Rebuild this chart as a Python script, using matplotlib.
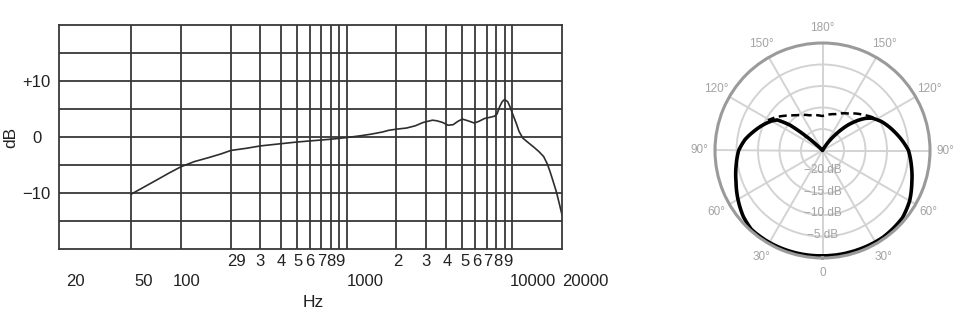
import numpy as np
import matplotlib
matplotlib.use("Agg")
import matplotlib.pyplot as plt
from matplotlib import transforms

plt.rcParams['font.family'] = ['Liberation Sans', 'DejaVu Sans']

# ---------------- data: frequency response ----------------
freq_hz = [50, 60, 70, 85, 100, 120, 150, 175, 200, 250, 300, 400, 500, 600,
           800, 1000, 1200, 1400, 1650, 1800, 2000, 2300, 2600, 2900, 3300,
           3500, 3800, 4100, 4400, 4700, 5000, 5400, 5900, 6300, 6800, 7300,
           7800, 8100, 8400, 8700, 9000, 9400, 9700, 10100, 10600, 11000,
           11600, 12500, 13500, 14500, 15500, 16300, 16900, 17500, 18500,
           19300, 20000]
resp_db = [-10.2, -8.9, -7.8, -6.4, -5.3, -4.4, -3.6, -3.0, -2.4, -2.0, -1.6,
           -1.2, -0.9, -0.7, -0.4, -0.1, 0.2, 0.5, 0.9, 1.2, 1.4, 1.6, 2.0,
           2.6, 3.0, 2.9, 2.6, 2.1, 2.2, 2.8, 3.2, 2.9, 2.5, 2.8, 3.3, 3.5,
           3.7, 4.1, 5.4, 6.3, 6.7, 6.3, 5.4, 4.0, 2.4, 1.0, -0.2, -1.0,
           -1.8, -2.6, -3.5, -4.8, -6.1, -7.5, -9.8, -12.0, -13.9]

grid_freqs = [50, 100, 200, 300, 400, 500, 600, 700, 800, 900, 1000,
              2000, 3000, 4000, 5000, 6000, 7000, 8000, 9000, 10000]
upper_tick_freqs = [200, 300, 400, 500, 600, 700, 800, 900,
                    2000, 3000, 4000, 5000, 6000, 7000, 8000, 9000]
upper_tick_labels = ['29', '3', '4', '5', '6', '7', '8', '9',
                     '2', '3', '4', '5', '6', '7', '8', '9']
lower_tick_freqs = [20, 50, 100, 1000, 10000, 20000]
lower_tick_labels = ['20', '50', '100', '1000', '10000', '20000']
db_ticks = [-15, -10, -5, 0, 5, 10, 15]
db_tick_labels = ['', '\u221210', '', '0', '', '+10', '']

# ---------------- data: polar pattern ----------------
solid_deg = [0, 20, 35, 50, 60, 70, 80, 90, 104, 116, 123, 127, 130, 135, 141,
             145, 150, 180, 223, 226, 229, 232, 236, 240, 245, 255, 262, 270,
             280, 290, 300, 310, 318, 330, 345, 360]
solid_db = [-0.5, -0.5, -0.4, -0.7, -1.6, -2.9, -4.0, -5.0, -7.6, -9.7, -11.2,
            -12.6, -14.0, -16.6, -20.4, -22.5, -25.0, -25.0, -25.0, -23.5,
            -20.1, -15.4, -12.3, -11.3, -10.3, -8.3, -6.8, -5.5, -4.6, -3.6,
            -2.3, -1.0, -0.3, -0.3, -0.4, -0.5]
dashed_deg = [123, 130, 145, 160, 180, 200, 215, 223, 235, 241]
dashed_db = [-10.9, -12.2, -14.5, -16.0, -17.0, -16.3, -15.0, -13.9, -11.6, -10.5]

theta_ticks = [0, 30, 60, 90, 120, 150, 180, 210, 240, 270, 300, 330]
theta_labels = ['0', '30°', '60°', '90°', '120°', '150°', '180°',
                '150°', '120°', '90°', '60°', '30°']
ring_db = [-20, -15, -10, -5]
ring_labels = ['\u221220 dB', '\u221215 dB', '\u221210 dB', '\u22125 dB']

# ---------------- figure ----------------
W, H = 959, 327
fig = plt.figure(figsize=(W / 100, H / 100), dpi=100)
fig.patch.set_facecolor('white')

gc = '#383838'
tc = '#222222'

ax = fig.add_axes([59 / W, 78 / H, 503 / W, 224 / H])
ax.set_xscale('log')
ax.set_xlim(18.3, 20000)
ax.set_ylim(-20, 20)
ax.set_xticks(grid_freqs)
ax.set_xticklabels([''] * len(grid_freqs))
ax.xaxis.set_minor_locator(matplotlib.ticker.NullLocator())
ax.set_yticks(db_ticks, db_tick_labels, ha='center', fontsize=12, color=tc)
ax.tick_params(axis='both', length=0)
ax.tick_params(axis='y', pad=16)
ax.grid(True, color=gc, lw=1.3)
for s in ax.spines.values():
    s.set_color(gc)
    s.set_linewidth(1.3)
ax.set_axisbelow(True)

ax.plot(freq_hz, resp_db, color='#2e2e2e', lw=1.2)

blend = transforms.blended_transform_factory(ax.transData, ax.transAxes)
upper_dx = [6, 0, 0, 1, 0, 1, 0, 1, 1, 0, 1, 3, 1, 1, 2, 3]
for f, lab, dx in zip(upper_tick_freqs, upper_tick_labels, upper_dx):
    tr = transforms.offset_copy(blend, fig=fig, x=dx, y=0, units='dots')
    ax.text(f, -0.058, lab, transform=tr, ha='center', va='center',
            fontsize=12, color=tc)
lower_dx = [9.6, 12, 6, 18.5, 21, 23]
for f, lab, dx in zip(lower_tick_freqs, lower_tick_labels, lower_dx):
    tr = transforms.offset_copy(blend, fig=fig, x=dx, y=0, units='dots')
    ax.text(f, -0.147, lab, transform=tr, ha='center', va='center',
            fontsize=12, color=tc, clip_on=False)

ax.set_xlabel('Hz', fontsize=12.5, color=tc, va='center')
ax.xaxis.set_label_coords(0.505, -0.241)
ax.set_ylabel('dB', fontsize=12.5, color=tc, va='center')
ax.yaxis.set_label_coords(-0.0954, 0.5)

# ---------------- polar ----------------
pax = fig.add_axes([715 / W, 69 / H, 215 / W, 215 / H], projection='polar')
pax.set_theta_zero_location('S')
pax.set_theta_direction(1)
pax.set_ylim(-25, 0)
pax.set_thetagrids(theta_ticks, theta_labels, fontsize=8.5, color='#a3a3a3')
pax.set_yticks(ring_db)
pax.set_yticklabels([])
pax.tick_params(axis='x', pad=0.5)
pax.grid(True, color='#d3d3d3', lw=1.4)
pax.spines['polar'].set_color('#9a9a9a')
pax.spines['polar'].set_linewidth(2.2)

for v, lab in zip(ring_db, ring_labels):
    pax.text(0, v - 0.45, lab, ha='center', va='center', fontsize=8.5,
             color='#a3a3a3')

ld, = pax.plot(np.deg2rad(dashed_deg), dashed_db, color='black', lw=1.8,
               ls=(0, (3.2, 1.8)))
ls_, = pax.plot(np.deg2rad(solid_deg), solid_db, color='black', lw=2.6)
for ln in (ld, ls_):
    ln.get_path()._interpolation_steps = 40

fig.savefig('out.png', dpi=100)
